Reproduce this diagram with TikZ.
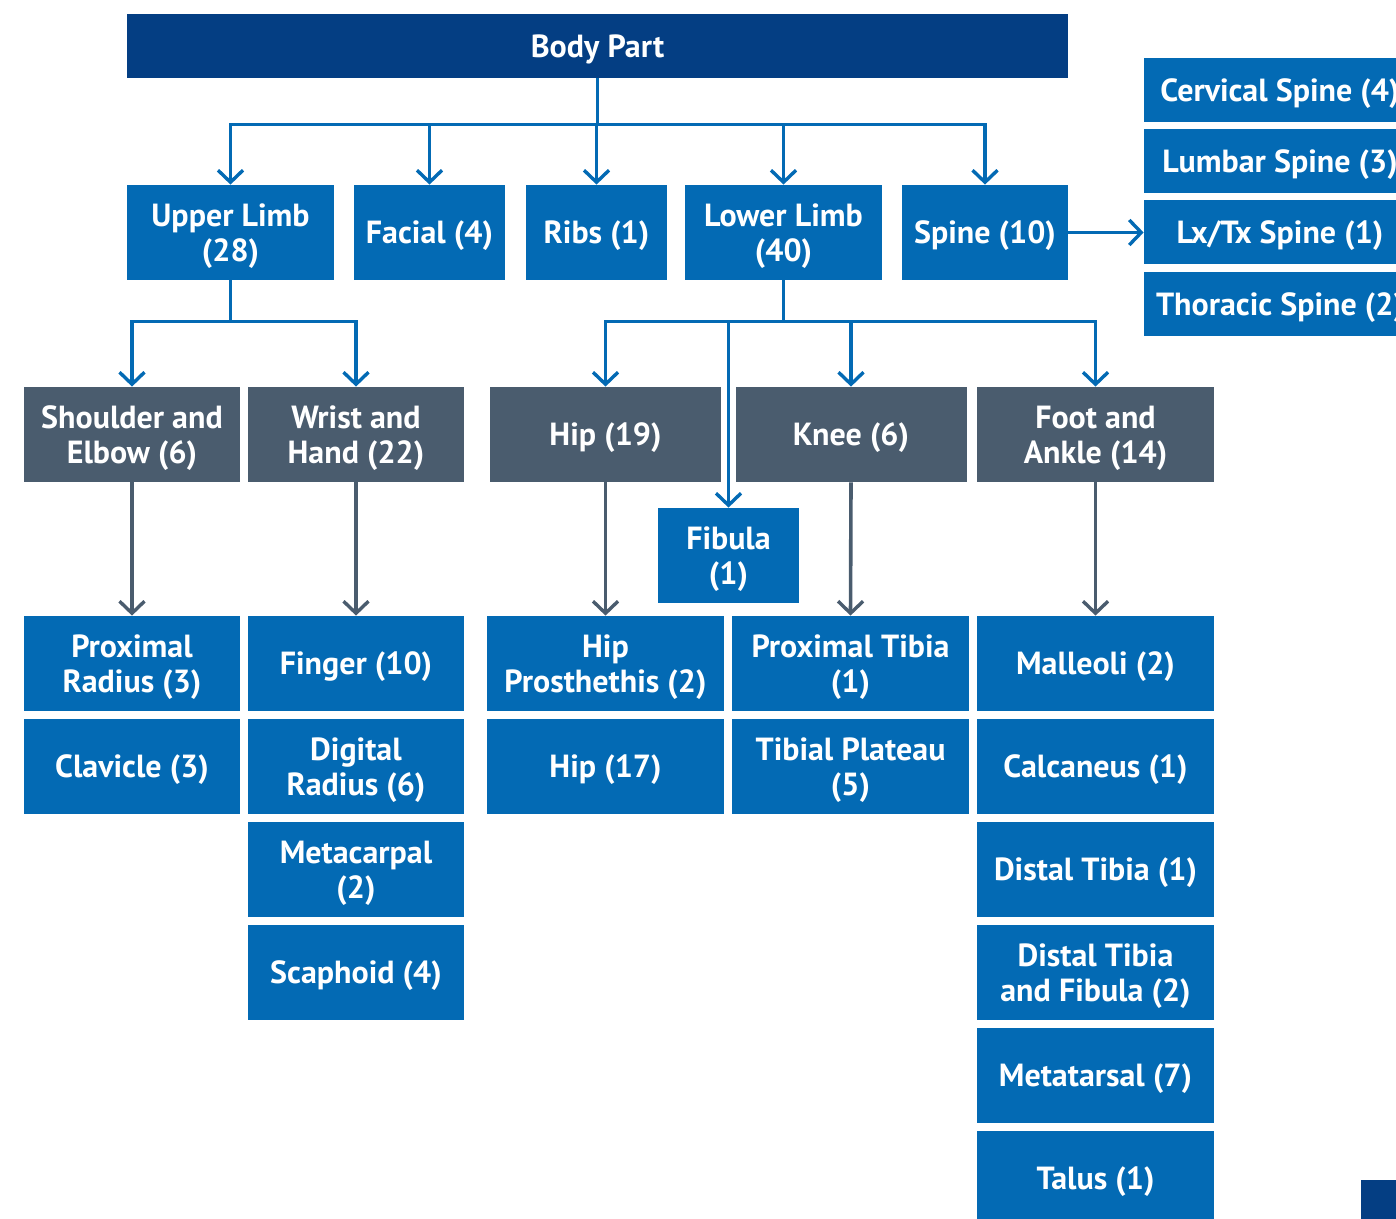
\documentclass[tikz,border=0pt]{standalone}
\usepackage{fontspec}
\setmainfont{PT Sans}
\usepackage{xcolor}
\definecolor{BodyNavy}{RGB}{4,62,131}
\definecolor{PartBlue}{RGB}{3,106,180}
\definecolor{RegionGray}{RGB}{74,92,110}
\usetikzlibrary{arrows.meta, positioning, calc}

\begin{document}
\begin{tikzpicture}[x=0.5pt, y=-0.5pt,
	font=\fontsize{16}{17.5}\selectfont\bfseries,
	box/.style={rectangle, text=white, align=center, inner sep=0pt, minimum height=47.5pt,
		text depth=0pt},
	navybox/.style={box, fill=BodyNavy},
	bluebox/.style={box, fill=PartBlue},
	graybox/.style={box, fill=RegionGray},
	link/.style={line width=1.8pt, -{Straight Barb[length=6pt, width=12.5pt, line width=1.7pt]}},
	bluelink/.style={link, draw=PartBlue},
	graylink/.style={link, draw=RegionGray}]
	\useasboundingbox (0,0) rectangle (1396,1219);

	\node[navybox, minimum width=470.5pt, minimum height=32pt] (body) at (597.5,46) {Body Part};

	\node[bluebox, minimum width=103.5pt] (upper) at (230.5,232.5) {Upper Limb\\(28)};
	\node[bluebox, minimum width=75.5pt] (facial) at (429.5,232.5) {Facial (4)};
	\node[bluebox, minimum width=70.5pt] (ribs) at (596.5,232.5) {Ribs (1)};
	\node[bluebox, minimum width=98.5pt] (lower) at (783.5,232.5) {Lower Limb\\(40)};
	\node[bluebox, minimum width=83pt] (spine) at (985,232.5) {Spine (10)};

	\foreach \name/\y/\txt in {cerv/90/Cervical Spine (4), lumb/161.5/Lumbar Spine (3),
		lxtx/232.5/{Lx/Tx Spine (1)}, thor/304/Thoracic Spine (2)}
		{\node[bluebox, minimum width=136pt, minimum height=32pt] (\name) at (1280,\y) {\txt};}

	\node[graybox, minimum width=108pt] (shoulder) at (132,434.5) {Shoulder and\\Elbow (6)};
	\node[graybox, minimum width=108pt] (wrist) at (356,434.5) {Wrist and\\Hand (22)};
	\node[graybox, minimum width=115.5pt] (hip) at (605.5,434.5) {Hip (19)};
	\node[graybox, minimum width=115.5pt] (knee) at (851,434.5) {Knee (6)};
	\node[graybox, minimum width=118.5pt] (foot) at (1095.5,434.5) {Foot and\\Ankle (14)};

	\node[bluebox, minimum width=70.5pt] (fibula) at (728.5,555.5) {Fibula\\(1)};

	\foreach \name/\y/\txt in {proxrad/663.5/Proximal\\Radius (3), clavicle/766.5/Clavicle (3)}
		{\node[bluebox, minimum width=108pt] (\name) at (132,\y) {\txt};}
	\foreach \name/\y/\txt in {finger/663.5/Finger (10), digrad/766.5/Digital\\Radius (6),
		metacarpal/869.5/Metacarpal\\(2), scaphoid/972.5/Scaphoid (4)}
		{\node[bluebox, minimum width=108pt] (\name) at (356,\y) {\txt};}
	\foreach \name/\y/\txt in {hippros/663.5/Hip\\Prosthethis (2), hipbox/766.5/Hip (17)}
		{\node[bluebox, minimum width=118.5pt] (\name) at (605.5,\y) {\txt};}
	\foreach \name/\y/\txt in {proxtib/663.5/Proximal Tibia\\(1), tibplat/766.5/Tibial Plateau\\(5)}
		{\node[bluebox, minimum width=118.5pt] (\name) at (850.5,\y) {\txt};}
	\foreach \name/\y/\txt in {malleoli/663.5/Malleoli (2), calcaneus/766.5/Calcaneus (1),
		distib/869.5/Distal Tibia (1), distfib/972.5/Distal Tibia\\and Fibula (2),
		metatarsal/1075.5/Metatarsal (7), talus/1178.5/Talus (1)}
		{\node[bluebox, minimum width=118.5pt] (\name) at (1095.5,\y) {\txt};}

	\foreach \child in {upper, facial, ribs, lower, spine}
		{\draw[bluelink] (body.south) -- ++(0,46) -| (\child.north);}
	\draw[bluelink] (spine.east) -- (lxtx.west);
	\foreach \child in {shoulder, wrist}
		{\draw[bluelink] (upper.south) -- ++(0,41) -| (\child.north);}
	\foreach \child in {hip, fibula, knee, foot}
		{\draw[bluelink] (lower.south) -- ++(0,41) -| (\child.north);}

	\draw[graylink] (shoulder.south) -- (proxrad.north);
	\draw[graylink] (wrist.south) -- (finger.north);
	\draw[graylink] (hip.south) -- (hippros.north);
	\draw[graylink] (knee.south) -- (proxtib.north);
	\draw[graylink] (foot.south) -- (malleoli.north);

	\fill[BodyNavy] (1361,1180) rectangle (1400,1225);
\end{tikzpicture}
\end{document}
